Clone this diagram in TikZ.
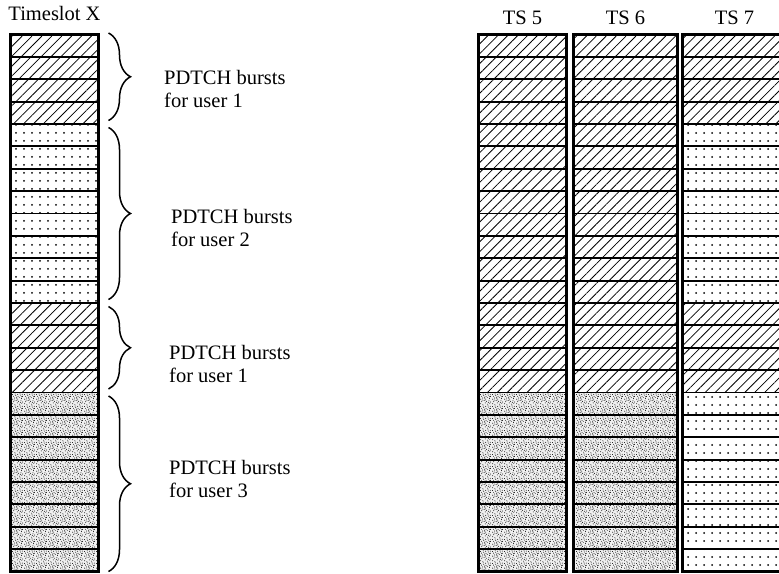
\documentclass[tikz,border=0pt]{standalone}
\usepackage{fontspec}
\setmainfont{Liberation Serif}
\usetikzlibrary{positioning,patterns,patterns.meta,decorations.pathreplacing}

% fine random-looking grain for user 3
\pgfdeclarepatternformonly{stipple}{\pgfpointorigin}{\pgfpoint{12pt}{12pt}}{\pgfpoint{12pt}{12pt}}{%
  \foreach \a/\b in {0.7/1.3,3.1/0.4,5.6/2.2,8.2/0.9,10.5/1.8,1.9/3.6,4.4/4.8,7.0/3.9,9.6/4.4,11.4/3.1,
                     0.5/6.1,2.8/7.3,5.3/6.6,7.8/7.9,10.2/6.8,1.6/9.2,4.0/10.1,6.5/9.0,9.0/10.4,11.3/9.1,
                     3.4/11.6,8.6/11.7,6.1/11.2,2.3/5.2,8.9/2.7,6.2/5.4,11.0/11.3,0.4/11.0,4.9/8.2,10.3/8.6}
    {\pgfpathcircle{\pgfpoint{\a pt}{\b pt}}{0.5pt}\pgfusepath{fill}}}

\tikzset{
  burst/.style={draw, line width=1.8pt, minimum height=22.375pt, inner sep=0pt, outer sep=0pt},
  user1/.style={pattern={Lines[angle=45,distance=7pt,line width=0.8pt]}},
  user2/.style={pattern={Dots[distance=8pt,radius=1pt]}},
  user3/.style={preaction={fill=gray!12}, pattern=stipple},
  frame/.style={draw, line width=3.6pt},
  lbl/.style={font=\fontsize{20.5}{23}\selectfont, inner sep=0pt},
  note/.style={lbl, align=left, anchor=west},
  ubrace/.style={decorate, decoration={brace, amplitude=22pt}, line width=1.5pt},
}

% one timeslot: name, x centre, width, patterns of the four bursts blocks
\newcommand\burstcol[7]{%
  \foreach \i in {1,...,24}{%
    \ifnum\i<5 \def\pat{#4}\else\ifnum\i<13 \def\pat{#5}\else\ifnum\i<17 \def\pat{#6}\else\def\pat{#7}\fi\fi\fi
    \node[burst, \pat, minimum width=#3] (#1-\i) at (#2,{34.5+(\i-0.5)*22.375}) {};
  }
  \draw[frame] (#1-1.north west) rectangle (#1-24.south east);
}

\begin{document}
\begin{tikzpicture}[x=1pt,y=-1pt]
  \useasboundingbox (0,0) rectangle (779,573);
  \clip (0,0) rectangle (779,573);

  \burstcol{slotx}{54.5}{88pt}{user1}{user2}{user1}{user3}
  \burstcol{ts5}{522.5}{88pt}{user1}{user1}{user1}{user3}
  \burstcol{ts6}{625.5}{104pt}{user1}{user1}{user1}{user3}
  \burstcol{ts7}{734.5}{104pt}{user1}{user2}{user1}{user2}

  \node[lbl, above=14pt of slotx-1] (slotxlbl) {Timeslot X};
  \node[lbl, above=9.5pt of ts5-1] (ts5lbl) {TS 5};
  \node[lbl, above=9.5pt of ts6-1] (ts6lbl) {TS 6};
  \node[lbl, above=9.5pt of ts7-1] (ts7lbl) {TS 7};

  \draw[ubrace] ([xshift=10pt,yshift=1.5pt]slotx-1.north east) -- ([xshift=10pt,yshift=3.5pt]slotx-4.south east);
  \draw[ubrace] ([xshift=10pt,yshift=-3.5pt]slotx-5.north east) -- ([xshift=10pt,yshift=3.5pt]slotx-12.south east);
  \draw[ubrace] ([xshift=10pt,yshift=-3.5pt]slotx-13.north east) -- ([xshift=10pt,yshift=3.5pt]slotx-16.south east);
  \draw[ubrace] ([xshift=10pt,yshift=-3.5pt]slotx-17.north east) -- ([xshift=10pt]slotx-24.south east);

  \node[note] (user1a) at (164,88.5) {PDTCH bursts\\for user 1};
  \node[note] (user2) at (171,228) {PDTCH bursts\\for user 2};
  \node[note] (user1b) at (169,364) {PDTCH bursts\\for user 1};
  \node[note] (user3) at (169,478.5) {PDTCH bursts\\for user 3};
\end{tikzpicture}
\end{document}
